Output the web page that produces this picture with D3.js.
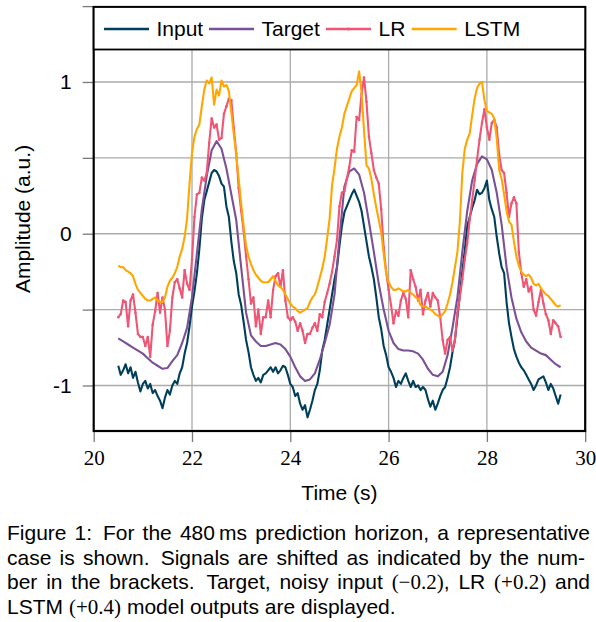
<!DOCTYPE html>
<html><head><meta charset="utf-8">
<script src="https://cdn.jsdelivr.net/npm/d3@7"></script>
<style>body{margin:0;background:#fff} svg{display:block}</style>
</head><body>
<svg id="chart" width="596" height="622"></svg>
<script>
// ---------------- DATA ----------------
const seriesNames = ["Input", "Target", "LR", "LSTM"];
const xTickValues = [20, 22, 24, 26, 28, 30];
const yTickValues = [-1, -0.5, 0, 0.5, 1, 1.5];
const xLabel = "Time (s)";
const yLabel = "Amplitude (a.u.)";

// noisy series sampled every 0.05 s from 20.5 s to 29.5 s
const inputValues = [
 -0.87,-0.93,-0.90,-0.86,-0.92,-0.88,-0.95,-0.91,-0.98,-1.04,
 -0.99,-0.97,-1.02,-0.99,-1.05,-1.03,-1.07,-1.10,-1.15,-1.08,
 -1.03,-1.06,-1.00,-0.97,-0.99,-0.92,-0.88,-0.79,-0.72,-0.61,
 -0.48,-0.38,-0.26,-0.10,0.10,0.22,0.28,0.34,0.40,0.42,
 0.41,0.38,0.33,0.31,0.18,0.11,-0.05,-0.18,-0.26,-0.40,
 -0.47,-0.58,-0.70,-0.78,-0.88,-0.93,-0.97,-0.95,-0.98,-0.93,
 -0.92,-0.90,-0.88,-0.91,-0.88,-0.92,-0.90,-0.87,-0.88,-0.93,
 -0.99,-1.01,-1.07,-1.05,-1.12,-1.16,-1.13,-1.21,-1.16,-1.10,
 -1.03,-0.99,-0.90,-0.77,-0.70,-0.60,-0.50,-0.40,-0.30,-0.22,
 -0.08,0.05,0.14,0.18,0.22,0.26,0.29,0.25,0.21,0.15,
 0.05,-0.05,-0.15,-0.22,-0.30,-0.42,-0.55,-0.63,-0.74,-0.80,
 -0.88,-0.91,-0.95,-1.01,-0.97,-0.99,-0.95,-0.92,-0.97,-1.01,
 -0.97,-1.01,-1.00,-1.03,-1.01,-1.03,-1.09,-1.14,-1.10,-1.16,
 -1.12,-1.07,-1.03,-1.01,-0.95,-0.88,-0.78,-0.70,-0.55,-0.40,
 -0.25,-0.11,0.05,0.11,0.17,0.22,0.29,0.26,0.27,0.30,
 0.35,0.22,0.16,0.11,-0.02,-0.13,-0.22,-0.26,-0.45,-0.59,
 -0.68,-0.76,-0.81,-0.85,-0.88,-0.90,-0.93,-0.96,-0.99,-1.03,
 -1.00,-0.96,-0.95,-0.94,-0.98,-1.03,-0.99,-1.02,-1.07,-1.12,
 -1.06];

const lrValues = [
 -0.55,-0.53,-0.44,-0.45,-0.61,-0.44,-0.40,-0.52,-0.66,-0.68,
 -0.68,-0.74,-0.68,-0.81,-0.60,-0.51,-0.39,-0.52,-0.42,-0.50,
 -0.74,-0.64,-0.42,-0.32,-0.30,-0.36,-0.42,-0.24,-0.33,-0.37,
 -0.17,0.11,0.26,0.27,0.37,0.35,0.40,0.60,0.76,0.70,
 0.72,0.62,0.63,0.79,0.84,0.89,0.88,0.70,0.53,0.30,
 0.15,0.02,-0.15,-0.30,-0.46,-0.42,-0.61,-0.50,-0.66,-0.55,
 -0.55,-0.44,-0.55,-0.37,-0.28,-0.26,-0.35,-0.24,-0.44,-0.55,
 -0.57,-0.55,-0.58,-0.64,-0.59,-0.64,-0.72,-0.66,-0.66,-0.62,
 -0.59,-0.64,-0.53,-0.55,-0.45,-0.39,-0.33,-0.25,-0.15,-0.04,
 0.18,0.27,0.28,0.36,0.44,0.55,0.54,0.77,0.75,0.92,
 1.03,0.87,0.64,0.53,0.42,0.37,0.33,0.16,-0.09,-0.25,
 -0.37,-0.47,-0.59,-0.51,-0.54,-0.44,-0.39,-0.43,-0.55,-0.24,
 -0.30,-0.35,-0.44,-0.37,-0.53,-0.44,-0.39,-0.48,-0.39,-0.42,
 -0.44,-0.55,-0.70,-0.79,-0.70,-0.68,-0.77,-0.70,-0.52,-0.42,
 -0.30,-0.17,-0.06,0.09,0.22,0.35,0.49,0.62,0.73,0.82,
 0.70,0.62,0.73,0.75,0.70,0.52,0.42,0.40,0.27,0.11,
 0.20,0.24,0.20,-0.12,-0.26,-0.35,-0.30,-0.38,-0.35,-0.50,
 -0.54,-0.45,-0.37,-0.46,-0.53,-0.57,-0.66,-0.57,-0.59,-0.61,
 -0.68];

const lstmValues = [
 -0.21,-0.22,-0.22,-0.24,-0.25,-0.26,-0.28,-0.33,-0.37,-0.39,
 -0.41,-0.43,-0.44,-0.44,-0.43,-0.42,-0.44,-0.45,-0.45,-0.42,
 -0.35,-0.31,-0.29,-0.26,-0.22,-0.15,-0.10,-0.02,0.10,0.33,
 0.53,0.64,0.69,0.72,0.84,0.95,1.01,0.99,1.03,0.85,
 0.95,0.91,1.01,0.97,0.98,0.94,0.80,0.66,0.52,0.36,
 0.20,0.05,-0.08,-0.15,-0.20,-0.24,-0.27,-0.29,-0.31,-0.32,
 -0.32,-0.32,-0.30,-0.28,-0.31,-0.34,-0.35,-0.37,-0.40,-0.43,
 -0.46,-0.48,-0.49,-0.51,-0.52,-0.51,-0.50,-0.49,-0.45,-0.42,
 -0.40,-0.35,-0.29,-0.23,-0.15,-0.03,0.10,0.32,0.43,0.56,
 0.64,0.70,0.79,0.84,0.89,0.94,0.96,0.98,1.07,0.93,
 0.68,0.45,0.43,0.36,0.26,0.17,0.09,0.01,-0.13,-0.26,
 -0.32,-0.35,-0.37,-0.37,-0.36,-0.37,-0.38,-0.38,-0.37,-0.39,
 -0.40,-0.42,-0.43,-0.47,-0.48,-0.48,-0.49,-0.50,-0.51,-0.53,
 -0.54,-0.55,-0.53,-0.51,-0.46,-0.40,-0.32,-0.22,-0.12,0.08,
 0.40,0.56,0.62,0.66,0.78,0.89,0.96,0.99,1.00,0.88,
 0.81,0.80,0.79,0.76,0.63,0.42,0.36,0.26,0.15,0.08,
 0.06,-0.05,-0.15,-0.21,-0.25,-0.27,-0.28,-0.27,-0.29,-0.33,
 -0.34,-0.33,-0.36,-0.38,-0.40,-0.41,-0.43,-0.45,-0.47,-0.48,
 -0.47];

// smooth target sampled every 0.1 s from 20.5 s to 29.5 s
const targetValues = [
 -0.69,-0.71,-0.73,-0.75,-0.77,-0.79,-0.82,-0.85,-0.87,-0.89,
 -0.885,-0.84,-0.80,-0.72,-0.62,-0.42,-0.13,0.16,0.38,0.55,
 0.61,0.56,0.43,0.26,0.09,-0.22,-0.52,-0.67,-0.71,-0.74,
 -0.74,-0.73,-0.72,-0.73,-0.76,-0.81,-0.88,-0.94,-0.97,-0.96,
 -0.92,-0.83,-0.72,-0.60,-0.40,-0.03,0.31,0.41,0.43,0.39,
 0.27,0.08,-0.12,-0.33,-0.50,-0.64,-0.72,-0.76,-0.77,-0.77,
 -0.775,-0.79,-0.83,-0.89,-0.93,-0.94,-0.91,-0.80,-0.62,-0.42,
 -0.12,0.15,0.35,0.46,0.51,0.49,0.42,0.27,0.06,-0.22,
 -0.42,-0.56,-0.65,-0.71,-0.75,-0.77,-0.79,-0.80,-0.83,-0.86,
 -0.88];

const tStart = 20.5, fineStep = 0.05, coarseStep = 0.1;

// ---------------- CHART ----------------
const SANS = "'Liberation Sans', Arial, Helvetica, sans-serif";
const SERIF = "'Liberation Serif', 'Times New Roman', serif";
const colors = {Input: "#003f5c", Target: "#7a5195", LR: "#ef5675", LSTM: "#ffa600"};

const svg = d3.select("#chart");
const X0 = 93.7, X1 = 585.2, Y0 = 6.1, Y1 = 431;
const x = d3.scaleLinear().domain([20, 30]).range([X0, X1]);
const y = d3.scaleLinear().domain([-1.3, 1.5]).range([Y1, Y0]);

const toPts = (vals, step) => vals.map((v, i) => ({t: tStart + i * step, v}));
const series = [
  {name: "Input", pts: toPts(inputValues, fineStep)},
  {name: "Target", pts: toPts(targetValues, coarseStep)},
  {name: "LR", pts: toPts(lrValues, fineStep), marks: true},
  {name: "LSTM", pts: toPts(lstmValues, fineStep)}
];

// grid
const grid = svg.append("g");
grid.selectAll("line.gx").data(xTickValues.filter(d => d > 20 && d < 30)).join("line")
  .attr("x1", d => x(d)).attr("x2", d => x(d)).attr("y1", Y1).attr("y2", 7)
  .attr("stroke", "#ababab").attr("stroke-width", 1.3);
grid.selectAll("line.gy").data(yTickValues.filter(d => d < 1.5)).join("line")
  .attr("x1", X0).attr("x2", X1).attr("y1", d => y(d)).attr("y2", d => y(d))
  .attr("stroke", "#ababab").attr("stroke-width", 1.3);

// clip
svg.append("clipPath").attr("id", "clip").append("rect")
  .attr("x", X0).attr("y", 7).attr("width", X1 - X0).attr("height", Y1 - 7);

const line = d3.line().x(d => x(d.t)).y(d => y(d.v));
const plot = svg.append("g").attr("clip-path", "url(#clip)");
series.forEach(s => {
  plot.append("path").datum(s.pts).attr("d", line)
    .attr("fill", "none").attr("stroke", colors[s.name])
    .attr("stroke-width", 2.1).attr("stroke-linejoin", "round");
  if (s.marks) {
    plot.append("g").selectAll("circle").data(s.pts).join("circle")
      .attr("cx", d => x(d.t)).attr("cy", d => y(d.v)).attr("r", 1.25)
      .attr("fill", colors[s.name]);
  }
});

// axes
const xAxis = d3.axisBottom(x).tickValues(xTickValues).tickSize(11).tickPadding(8)
  .tickFormat(d3.format("d"));
const gx = svg.append("g").attr("transform", `translate(0,${Y1})`).call(xAxis);
gx.select(".domain").remove();
gx.selectAll(".tick line").attr("stroke", "#7a7a7a").attr("stroke-width", 1.3);
gx.selectAll(".tick text").attr("font-family", SERIF).attr("font-size", 21).attr("fill", "#000");

const yAxis = d3.axisLeft(y).tickValues(yTickValues).tickSize(11).tickPadding(11)
  .tickFormat(d => Number.isInteger(d) && d < 1.5 ? String(d) : "");
const gy = svg.append("g").attr("transform", `translate(${X0},0)`).call(yAxis);
gy.select(".domain").remove();
gy.selectAll(".tick line").attr("stroke", "#7a7a7a").attr("stroke-width", 1.3);
gy.selectAll(".tick text").attr("font-family", SANS).attr("font-size", 21).attr("fill", "#000");

// frame
svg.append("rect").attr("x", X0).attr("y", 7).attr("width", X1 - X0).attr("height", Y1 - 7)
  .attr("fill", "none").attr("stroke", "#000").attr("stroke-width", 2.2);

// legend
const lg = svg.append("g");
lg.append("rect").attr("x", X0).attr("y", 7).attr("width", X1 - X0).attr("height", 42.5)
  .attr("fill", "#fff").attr("stroke", "#000").attr("stroke-width", 1.8);
const legendX = [104, 209, 326, 411.7];
seriesNames.forEach((n, i) => {
  const lx = legendX[i];
  lg.append("line").attr("x1", lx).attr("x2", lx + 45).attr("y1", 29).attr("y2", 29)
    .attr("stroke", colors[n]).attr("stroke-width", 2.3);
  if (n === "LR") lg.append("circle").attr("cx", lx + 22.5).attr("cy", 29).attr("r", 1.5).attr("fill", colors[n]);
  lg.append("text").attr("x", lx + 52.5).attr("y", 35.5).text(n)
    .attr("font-family", SANS).attr("font-size", 21).attr("fill", "#000");
});

// axis labels
svg.append("text").attr("x", (X0 + X1) / 2).attr("y", 500).attr("text-anchor", "middle")
  .attr("font-family", SANS).attr("font-size", 21).text(xLabel);
svg.append("text").attr("transform", `translate(30,${(7 + Y1) / 2}) rotate(-90)`)
  .attr("text-anchor", "middle").attr("font-family", SANS).attr("font-size", 21).text(yLabel);

// caption (justified)
const S = t => ({t, serif: false}), M = t => ({t, serif: true});
const captionLines = [
  {y: 540, right: 590, justify: true, tokens: [[S("Figure")],[S("1:")],[S("For")],[S("the")],[S("480\u2009ms")],[S("prediction")],[S("horizon,")],[S("a")],[S("representative")]]},
  {y: 564.5, right: 585, justify: true, tokens: [[S("case")],[S("is")],[S("shown.")],[S("Signals")],[S("are")],[S("shifted")],[S("as")],[S("indicated")],[S("by")],[S("the")],[S("num-")]]},
  {y: 589, right: 590, justify: true, tokens: [[S("ber")],[S("in")],[S("the")],[S("brackets.")],[S("Target,")],[S("noisy")],[S("input")],[M("(\u22120.2)"),S(",")],[S("LR")],[M("(+0.2)")],[S("and")]]},
  {y: 613.5, right: 590, justify: false, tokens: [[M("(+0.4)")]].length ? [[S("LSTM")],[M("(+0.4)")],[S("model")],[S("outputs")],[S("are")],[S("displayed.")]] : []}
];
const cap = svg.append("g").attr("font-size", 21).attr("fill", "#000");
captionLines.forEach(L => {
  const els = L.tokens.map(tok => {
    const te = cap.append("text").attr("y", L.y);
    tok.forEach(r => te.append("tspan").attr("font-family", r.serif ? SERIF : SANS).text(r.t));
    return {te, w: te.node().getComputedTextLength(), last: tok[tok.length - 1].t};
  });
  const total = d3.sum(els, e => e.w);
  const weights = els.slice(0, -1).map(e => /[.:]$/.test(e.last) ? 1.35 : 1);
  const wsum = d3.sum(weights);
  const left = 7;
  const unit = L.justify ? (L.right - left - total) / wsum : 5.9;
  let cx = left;
  els.forEach((e, i) => {
    e.te.attr("x", cx);
    cx += e.w + (i < weights.length ? weights[i] * unit : 0);
  });
});
</script>
</body></html>
